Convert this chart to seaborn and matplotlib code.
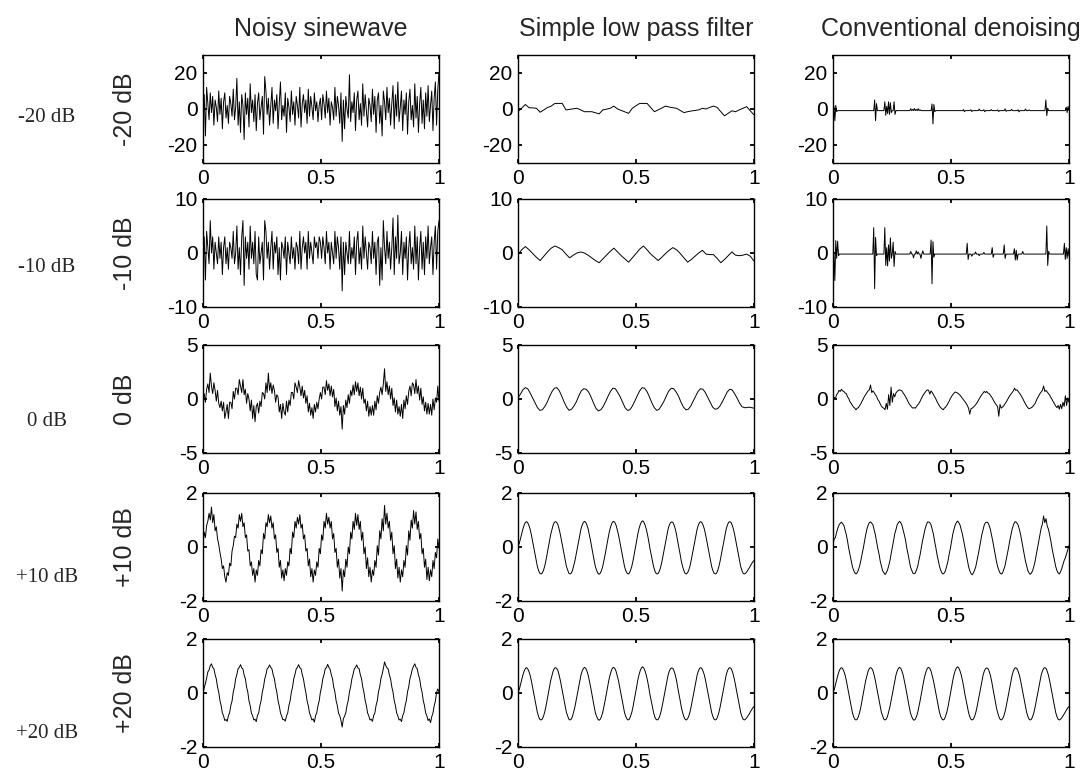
import numpy as np
import matplotlib
matplotlib.use('Agg')
import matplotlib.pyplot as plt
import seaborn as sns

# --- labels / axes settings ---
snr_labels = ['-20 dB', '-10 dB', '0 dB', '+10 dB', '+20 dB']
col_titles = ['Noisy sinewave', 'Simple low pass filter', 'Conventional denoising']
y_half_range = [30, 10, 5, 2, 2]
y_ticks = [[-20, 0, 20], [-10, 0, 10], [-5, 0, 5], [-2, 0, 2], [-2, 0, 2]]
x_ticks = [0, 0.5, 1]
x_ticklabels = ['0', '0.5', '1']

# --- noisy sinewave ---
noisy_m20 = [
    -4, 8, -15, 12, 3, -6, 9, -2, 7, -9, 5, 1, -7, 10,
    -3, 6, -11, 4, 9, -5, 2, -8, 7, 3, -4, 11, -6, 1,
    17, -9, 4, -13, 8, 2, -17, 9, -3, 6, -10, 14, -2, 5,
    -7, 8, -12, 3, 9, -6, 1, 7, -14, 18, 10, -3, 6, -9,
    2, 12, -8, 5, -1, 8, -11, 3, 15, -6, 2, -4, 9, -13,
    6, 1, -7, 10, -3, 4, -9, 7, 2, -5, 12, -10, 3, 8,
    -2, 5, -8, 11, -4, 7, 1, -6, 9, -1, 4, -7, 2, 6,
    -6, 8, 3, -5, 10, -2, 6, -9, 4, 1, -6, 12, -4, 7,
    2, -8, 9, -18, 5, -11, 7, 0, -5, 19, -7, 4, -2, 9,
    -12, 5, 10, -6, 3, -9, 14, -4, 8, -1, -10, 6, 2, -7,
    11, -3, 7, -13, 5, 9, -8, 2, -15, 10, 4, -6, 12, -2,
    6, -9, 3, 13, -11, 8, -4, 15, -7, 1, 10, -12, 5, -3,
    9, -14, 4, 11, -6, 2, -10, 14, -5, 7, -13, 3, 12, -8,
    5, -11, 9, -4, 13, -7, 2, 10, -12, 6, 15, -9, 11, 20]

noisy_m10 = [
    -1, 3, -5, 4, 1, -2, 6, 0, 3, -3, 2, 0, -2, 3,
    -1, 2, -4, 1, 3, -2, 1, -3, 2, 1, -1, 4, -2, 0,
    5, -3, 1, -4, 3, 6, -6, 3, -1, 2, -3, 5, -1, 2,
    -2, 4, -4, -5, 3, -2, 0, 2, -5, 6, 4, -1, 2, -3,
    1, 4, -3, 2, 0, 3, -4, 1, -5, 2, 1, -1, 3, -4,
    2, 0, -2, 3, -1, 1, -3, 2, 1, -2, 4, -3, 1, 3,
    0, 2, -3, 4, -1, 2, 0, -2, 3, 1, 2, -1, 3, 2,
    -1, 3, 1, -2, 4, 0, 2, -3, 2, 0, -2, 4, -1, 3,
    1, -3, 3, -7, 2, -4, 2, 0, -2, 4, -2, 1, -1, 3,
    -4, 2, 4, -2, 1, -3, 5, -1, 3, 0, -3, 2, 1, -2,
    4, -1, 2, -4, 2, 3, -6, 1, -5, 6, 1, -2, 4, -1,
    2, -3, 1, 6.5, -4, 3, -1, 7, -2, 0, 4, -4, 2, -1,
    3, -5, 1, 4, -2, 1, -3, 5, -2, 3, -5, 1, 4, -3,
    2, -4, 3, -1, 5, -2, 1, 3, -4, 2, 5, -3, 4, 6]

noisy_0 = [
    -0.1, 0.5, -0.3, 0.9, 1.4, 0.6, 2.4, 1.2, 0.5, 1.5, 0.8, -0.2, 0.8, -0.4,
    -0.8, -0.2, -1.1, -0.3, -1.8, -1.2, -0.5, -1.8, -0.3, -0.3, -0.9, 0.7, 0.0, 1.0,
    1.0, 0.4, 1.8, 1.2, 0.6, 1.8, 0.4, 0.9, -0.4, 0.5, 0.0, -1.1, -0.1, -1.8,
    -0.6, -2.1, -0.7, -0.4, -1.3, -0.2, -0.7, 0.6, 0.5, 0.0, 1.5, 0.6, 2.4, 0.8,
    1.5, 0.5, 1.3, 0.8, -0.3, 0.4, 0.2, -1.2, -0.5, -1.8, -0.4, -1.2, -1.5, -0.2,
    -1.2, -0.1, -0.6, 0.6, 0.6, 0.0, 1.5, 1.1, 0.6, 1.7, 1.1, 0.3, 1.2, 0.1,
    0.8, -0.4, 0.3, -1.2, -0.4, -1.5, -0.8, -1.8, -0.5, -1.2, -0.3, -0.9, 0.0, 0.6,
    0.0, 1.1, 1.1, 0.4, 1.7, 0.8, 1.4, 0.3, 1.2, 0.2, 0.9, -0.7, 0.1, -1.1,
    -0.2, -1.5, -0.7, -2.8, -0.6, -1.4, -0.1, -0.8, 0.4, -0.4, 0.8, 0.3, 1.3, 0.4,
    1.6, 0.7, 1.5, 0.3, 1.1, 0.0, 1.0, -0.4, 0.0, -1.1, -0.2, -1.6, -0.7, -1.5,
    -0.6, -1.5, -0.2, -1.0, 0.3, -0.4, 0.6, 1.1, 0.4, 1.4, 2.8, 0.7, 1.6, 0.4,
    1.2, 0.0, 1.0, -0.6, 0.1, -1.2, -0.1, -1.4, -0.7, -1.6, -0.5, -1.8, -0.1, -0.9,
    0.3, -0.5, 0.7, 1.2, 0.3, 1.5, 1.3, 0.5, 1.8, 0.5, 1.2, -0.1, 1.0, -0.5,
    0.2, -1.1, -0.3, -1.4, -0.4, -1.4, -0.5, -1.5, 0.0, -1.0, 0.1, -0.3, 1.2, -0.2]

noisy_p10 = [
    0.10, 0.55, 0.35, 0.80, 0.95, 1.25, 1.00, 1.48, 0.90, 1.20, 0.60, 0.75, 0.30, 0.10,
    -0.20, -0.45, -0.80, -0.70, -1.10, -1.30, -0.95, -1.05, -0.60, -0.70, -0.15, 0.05, 0.40, 0.35,
    0.85, 0.70, 1.20, 0.95, 1.25, 0.75, 0.90, 0.35, 0.45, -0.15, -0.10, -0.70, -0.55, -1.05,
    -0.80, -1.30, -0.85, -1.05, -0.50, -0.70, -0.10, -0.25, 0.50, 0.30, 0.90, 0.75, 1.20, 0.90,
    1.15, 0.70, 0.90, 0.30, 0.45, -0.20, -0.05, -0.75, -0.50, -1.15, -0.85, -1.25, -0.80, -1.05,
    -0.55, -0.70, -0.05, -0.25, 0.55, 0.35, 0.95, 0.70, 1.10, 0.85, 1.20, 0.70, 0.85, 0.30,
    0.45, -0.15, -0.05, -0.70, -0.45, -1.10, -0.80, -1.30, -0.85, -1.05, -0.55, -0.75, -0.05, -0.25,
    0.45, 0.25, 0.95, 0.70, 1.25, 0.85, 1.10, 0.70, 0.95, 0.30, 0.50, -0.20, -0.05, -0.75,
    -0.45, -1.15, -0.80, -1.63, -0.85, -1.10, -0.45, -0.75, 0.00, -0.25, 0.55, 0.30, 0.95, 0.65,
    1.25, 0.80, 1.20, 0.65, 0.95, 0.25, 0.55, -0.25, 0.00, -0.80, -0.40, -1.10, -0.75, -1.30,
    -0.85, -1.05, -0.50, -0.75, 0.05, -0.30, 0.60, 0.30, 1.05, 0.60, 1.54, 0.85, 1.25, 0.70,
    0.95, 0.25, 0.55, -0.25, 0.05, -0.80, -0.45, -1.15, -0.75, -1.30, -0.85, -1.10, -0.50, -0.75,
    0.05, -0.30, 0.60, 0.25, 1.00, 0.70, 1.35, 0.85, 1.30, 0.65, 0.95, 0.30, 0.50, -0.25,
    -0.05, -0.75, -0.45, -1.20, -0.75, -1.25, -0.85, -1.10, -0.50, -0.80, -0.20, -0.40, 0.30, -0.05]

noisy_p20 = [
    -0.05, 0.20, 0.35, 0.55, 0.78, 0.85, 1.02, 1.08, 0.95, 0.90, 0.68, 0.52, 0.22, 0.03,
    -0.28, -0.47, -0.74, -0.85, -1.02, -0.98, -1.05, -0.84, -0.73, -0.46, -0.30, 0.04, 0.22, 0.53,
    0.69, 0.90, 0.95, 1.05, 0.93, 0.89, 0.66, 0.53, 0.22, 0.04, -0.29, -0.47, -0.75, -0.84,
    -1.00, -0.97, -1.06, -0.83, -0.74, -0.47, -0.29, 0.03, 0.23, 0.52, 0.68, 0.90, 0.94, 1.04,
    0.95, 0.89, 0.67, 0.53, 0.23, 0.03, -0.28, -0.48, -0.73, -0.86, -0.99, -0.98, -1.04, -0.85,
    -0.74, -0.46, -0.29, 0.03, 0.22, 0.53, 0.69, 0.89, 0.95, 1.05, 0.94, 0.90, 0.68, 0.52,
    0.24, 0.02, -0.29, -0.47, -0.74, -0.85, -1.00, -0.96, -1.08, -0.84, -0.73, -0.47, -0.29, 0.03,
    0.23, 0.53, 0.68, 0.90, 0.94, 1.06, 0.95, 0.88, 0.68, 0.53, 0.22, 0.03, -0.29, -0.47,
    -0.75, -0.84, -1.02, -1.26, -0.95, -0.86, -0.73, -0.46, -0.28, 0.04, 0.23, 0.52, 0.69, 0.89,
    0.95, 1.04, 0.93, 0.90, 0.67, 0.53, 0.23, 0.02, -0.28, -0.47, -0.74, -0.85, -1.00, -0.97,
    -1.05, -0.84, -0.74, -0.46, -0.29, 0.04, 0.23, 0.53, 0.69, 0.90, 1.15, 1.02, 0.93, 0.89,
    0.67, 0.52, 0.23, 0.03, -0.28, -0.47, -0.74, -0.85, -1.00, -0.97, -1.06, -0.84, -0.73, -0.47,
    -0.29, 0.04, 0.23, 0.53, 0.69, 0.89, 1.00, 1.08, 0.95, 0.90, 0.67, 0.53, 0.23, 0.03,
    -0.28, -0.47, -0.74, -0.85, -1.02, -0.96, -1.10, -0.88, -0.74, -0.48, -0.30, 0.02, 0.15, 0.05]

# --- simple low pass filter ---
lpf_m20 = [
    -1.5, 0.5, 2.5, 0.7, 0.6, 0.4, -1.8, -0.5, 0.8, 1.6, 3.1, 3.1, 3.1, -0.5, -0.2, 0.1,
    0.4, -0.5, -1.5, -1.5, -1.5, -2.1, -2.7, -0.5, -0.1, 0.4, 1.6, 0.0, -0.8, -1.6, -2.4, 0.4,
    1.8, 3.1, 3.1, 3.1, 0.8, -1.5, -0.5, 0.5, 1.6, 1.1, 0.7, 0.4, -0.8, -2.0, -1.5, -1.1,
    -0.8, -0.5, 0.4, 0.0, 0.9, 1.6, 0.9, -1.5, -3.8, -2.4, -1.0, -1.5, -0.5, 0.4, 1.3, -1.0,
    -3.3]

lpf_m10 = [
    -0.3, 0.6, 1.2, 0.6, -0.1, -0.8, -1.4, -0.6, 0.2, 0.9, 1.3, 1.0, 0.6, -0.2, -0.9, -0.4,
    0.0, 0.2, 0.0, -0.4, -0.9, -1.4, -1.8, -1.1, -0.4, 0.3, 0.9, 0.2, -0.5, -1.1, -1.7, -0.9,
    -0.1, 0.7, 1.3, 0.6, -0.2, -0.8, -1.4, -0.8, -0.1, 0.5, 1.0, 0.6, -0.1, -0.9, -1.7, -1.2,
    -0.6, 0.0, 0.5, -0.2, -0.3, -0.3, -1.0, -1.8, -1.2, -0.5, 0.2, -0.4, -0.5, -0.4, -0.2, -0.6,
    -1.5]

lpf_0 = [
    0.10, 0.45, 0.85, 1.05, 0.95, 0.55, 0.10, -0.35, -0.80, -1.05, -1.00, -0.70,
    -0.30, 0.25, 0.70, 1.00, 1.05, 0.75, 0.25, -0.30, -0.75, -1.05, -0.95, -0.65,
    -0.25, 0.30, 0.75, 0.95, 0.90, 0.65, 0.20, -0.35, -0.85, -1.10, -1.00, -0.70,
    -0.25, 0.25, 0.70, 1.00, 0.95, 0.60, 0.20, -0.30, -0.80, -1.05, -1.00, -0.65,
    -0.20, 0.30, 0.75, 1.05, 1.00, 0.70, 0.20, -0.35, -0.80, -1.05, -0.95, -0.60,
    -0.20, 0.30, 0.75, 1.00, 0.95, 0.65, 0.25, -0.30, -0.75, -1.00, -0.95, -0.65,
    -0.20, 0.25, 0.70, 0.95, 0.90, 0.60, 0.15, -0.30, -0.75, -0.95, -0.90, -0.65,
    -0.25, 0.20, 0.65, 0.90, 0.85, 0.50, 0.10, -0.35, -0.70, -0.80, -0.80, -0.75,
    -0.80, -0.85]

smooth_sine = [
    0.05, 0.12, 0.30, 0.48, 0.66, 0.80, 0.90, 0.94, 0.90, 0.80, 0.66, 0.46, 0.22, -0.03, -0.28, -0.52, -0.72, -0.87, -0.97, -1.00, -0.97, -0.87, -0.72, -0.52,
    -0.28, -0.03, 0.22, 0.46, 0.64, 0.81, 0.91, 0.94, 0.91, 0.83, 0.66, 0.46, 0.22, -0.03, -0.26, -0.52, -0.72, -0.85, -0.97, -1.00, -0.97, -0.87, -0.70, -0.52,
    -0.28, -0.05, 0.22, 0.46, 0.66, 0.81, 0.91, 0.95, 0.91, 0.81, 0.66, 0.44, 0.22, -0.03, -0.28, -0.52, -0.74, -0.87, -0.97, -1.01, -0.97, -0.87, -0.72, -0.50,
    -0.28, -0.03, 0.24, 0.46, 0.66, 0.81, 0.92, 0.95, 0.91, 0.81, 0.64, 0.46, 0.22, -0.03, -0.28, -0.52, -0.72, -0.87, -0.96, -1.00, -0.97, -0.86, -0.72, -0.52,
    -0.28, -0.03, 0.22, 0.48, 0.68, 0.83, 0.93, 0.97, 0.92, 0.81, 0.66, 0.46, 0.22, -0.05, -0.28, -0.52, -0.72, -0.88, -0.97, -1.00, -0.97, -0.87, -0.72, -0.52,
    -0.28, -0.03, 0.22, 0.46, 0.66, 0.81, 0.90, 0.93, 0.91, 0.81, 0.66, 0.46, 0.20, -0.03, -0.28, -0.54, -0.72, -0.87, -0.97, -1.00, -0.96, -0.87, -0.72, -0.52,
    -0.28, -0.03, 0.22, 0.46, 0.66, 0.81, 0.91, 0.94, 0.90, 0.80, 0.66, 0.46, 0.22, -0.03, -0.28, -0.52, -0.72, -0.87, -0.97, -1.00, -0.97, -0.87, -0.72, -0.52,
    -0.28, -0.03, 0.22, 0.46, 0.66, 0.81, 0.91, 0.94, 0.91, 0.81, 0.66, 0.46, 0.22, -0.03, -0.28, -0.52, -0.72, -0.87, -0.97, -1.00, -0.97, -0.92, -0.85, -0.78,
    -0.70, -0.62, -0.55, -0.50]

# --- conventional denoising ---
# mostly flat baseline with isolated spikes: {sample index: value}, 256 samples
den_len = 256
den_m20_base = -0.9
den_m20_spikes = {
    1: 1.5, 2: -6.5, 3: 2.0, 4: -1.5,
    45: 5.0, 46: -6.5, 47: 3.0,
    56: 4.0, 57: -3.5, 58: 1.5, 59: -2.5, 60: 4.0, 61: -3.0, 62: 3.5, 63: -2.0, 66: 4.0, 67: -3.0,
    84: 0.2, 86: -0.2, 88: 0.3, 90: -0.3, 92: 0.2, 94: -0.4,
    107: 2.8, 108: -8.3, 109: 2.5, 110: -1.5,
    141: -0.3, 142: -1.5, 149: -0.4, 150: -1.4, 158: 0.0, 163: -0.4, 164: -1.5, 171: -0.3,
    178: -0.5, 179: -1.4, 186: 0.1, 187: -1.3, 193: -0.2, 200: -0.4, 201: -1.6, 208: 0.0, 212: -0.5,
    230: 5.0, 231: -3.7, 232: 0.5,
    252: 1.0, 253: -2.0, 254: 1.5}

den_m10_base = -0.2
den_m10_spikes = {
    2: -5.1, 3: 2.3, 4: -1.0, 5: 2.2, 6: -0.5,
    44: 4.7, 45: -6.6, 46: 2.9, 47: -0.5,
    56: 4.7, 57: -2.3, 58: 1.0, 59: -2.4, 60: 1.5, 61: -1.5, 62: 2.8, 63: -1.0, 65: 2.0, 66: -2.5, 67: 0.3,
    84: 0.3, 87: -0.9, 90: 0.4, 92: 0.2, 95: -1.0, 97: 0.4,
    106: 2.4, 107: -5.7, 108: 2.1, 109: -0.8,
    145: 1.8, 146: -1.2, 150: -0.6, 154: 0.2, 158: -0.5, 163: 0.1,
    172: 1.0, 173: -0.8, 185: 1.5, 186: -1.0,
    196: 0.8, 197: -1.3, 198: 0.5, 199: -1.3, 205: 0.3,
    231: 5.0, 232: -2.3, 233: 0.3,
    250: 1.8, 251: -1.2, 252: 1.0, 253: -1.0, 254: 0.8, 255: -0.6}

den_0 = [
    -0.10, 0.15, 0.05, 0.40, 0.55, 0.80, 0.70, 0.90, 0.75, 0.70, 0.55, 0.50, 0.20, 0.05, -0.25, -0.40, -0.60, -0.75, -0.85, -1.00, -0.85, -0.80, -0.60, -0.45,
    -0.20, 0.00, 0.25, 0.40, 0.60, 0.75, 0.85, 1.30, 0.60, 0.75, 0.60, 0.40, 0.25, -0.05, -0.20, -0.45, -0.65, -0.80, -0.85, -1.00, -0.40, -0.95, 0.40, -0.60,
    1.10, -0.30, 0.50, 0.20, 0.55, 0.70, 0.80, 0.85, 0.80, 0.75, 0.55, 0.40, 0.20, 0.00, -0.25, -0.45, -0.60, -0.75, -0.85, -0.80, -0.85, -0.70, -0.55, -0.40,
    -0.20, 0.05, 0.25, 0.45, 0.60, 0.75, 0.85, 0.80, 0.45, 0.75, 0.60, 0.40, 0.20, 0.00, -0.25, -0.45, -0.65, -0.80, -0.90, -1.00, -0.85, -0.75, -0.60, -0.40,
    -0.20, 0.05, 0.25, 0.40, 0.55, 0.65, 0.60, 0.55, 0.45, 0.35, 0.20, 0.05, -0.10, -0.25, -0.40, -0.60, -0.85, -1.40, -0.90, -0.85, -0.75, -0.65, -0.50, -0.35,
    -0.15, 0.05, 0.25, 0.40, 0.55, 0.70, 0.60, 0.70, 0.55, 0.50, 0.35, 0.20, 0.00, -0.20, -0.40, -0.55, -0.70, -1.60, -0.50, -0.85, -0.75, -0.65, -0.45, -0.30,
    -0.10, 0.10, 0.30, 0.45, 0.60, 0.75, 1.00, 0.80, 0.85, 0.70, 0.55, 0.40, 0.20, 0.00, -0.25, -0.45, -0.65, -0.80, -0.90, -0.85, -0.80, -0.70, -0.55, -0.40,
    -0.15, 0.10, 0.30, 0.50, 0.65, 0.80, 1.20, 0.70, 0.80, 0.65, 0.50, 0.35, 0.15, -0.05, -0.25, -0.45, -0.65, -0.80, -0.60, -0.95, -0.50, -0.90, -0.30, -0.70,
    0.30, -0.60, 0.10, -0.30]

den_p10 = [
    0.10, 0.30, 0.35, 0.55, 0.70, 0.82, 0.88, 0.92, 0.86, 0.80, 0.62, 0.46, 0.22, -0.05, -0.28, -0.50, -0.72, -0.86, -0.95, -1.00, -0.95, -0.85, -0.70, -0.50,
    -0.28, -0.05, 0.20, 0.45, 0.66, 0.80, 0.90, 0.93, 0.88, 0.82, 0.64, 0.45, 0.20, -0.05, -0.25, -0.52, -0.70, -0.88, -0.95, -1.02, -0.95, -0.86, -0.70, -0.52,
    -0.26, -0.03, 0.22, 0.48, 0.64, 0.82, 0.90, 0.95, 0.90, 0.80, 0.62, 0.44, 0.24, -0.05, -0.26, -0.50, -0.74, -0.85, -0.97, -0.99, -0.97, -0.85, -0.72, -0.48,
    -0.28, -0.02, 0.24, 0.44, 0.66, 0.80, 0.92, 0.93, 0.90, 0.82, 0.64, 0.47, 0.20, -0.03, -0.30, -0.50, -0.72, -0.86, -0.96, -1.00, -0.96, -0.87, -0.70, -0.52,
    -0.26, -0.05, 0.22, 0.48, 0.66, 0.82, 0.91, 0.96, 0.90, 0.81, 0.64, 0.46, 0.22, -0.04, -0.28, -0.52, -0.72, -0.88, -0.98, -1.03, -0.96, -0.86, -0.72, -0.50,
    -0.28, -0.03, 0.20, 0.46, 0.64, 0.82, 0.90, 0.92, 0.90, 0.80, 0.66, 0.44, 0.22, -0.03, -0.28, -0.52, -0.72, -0.86, -0.96, -1.00, -0.97, -0.85, -0.72, -0.50,
    -0.28, -0.04, 0.22, 0.45, 0.66, 0.80, 0.92, 0.94, 0.88, 0.81, 0.65, 0.46, 0.22, -0.03, -0.26, -0.52, -0.70, -0.87, -0.96, -1.01, -0.96, -0.87, -0.71, -0.52,
    -0.28, -0.03, 0.22, 0.46, 0.70, 0.85, 1.15, 0.90, 1.05, 0.78, 0.66, 0.45, 0.22, -0.05, -0.28, -0.52, -0.72, -0.87, -0.96, -1.00, -0.92, -0.80, -0.65, -0.50,
    -0.40, -0.25, -0.10, 0.05]


def spiky(base, spikes, n):
    vals = np.full(n, base, dtype=float)
    for idx, v in spikes.items():
        vals[idx] = v
    return vals


den_m20 = spiky(den_m20_base, den_m20_spikes, den_len)
den_m10 = spiky(den_m10_base, den_m10_spikes, den_len)

grid = [
    [noisy_m20, lpf_m20, den_m20],
    [noisy_m10, lpf_m10, den_m10],
    [noisy_0, lpf_0, den_0],
    [noisy_p10, smooth_sine, den_p10],
    [noisy_p20, smooth_sine, smooth_sine],
]

sns.set_style('ticks')
plt.rcParams['font.family'] = ['Liberation Sans', 'DejaVu Sans']
plt.rcParams['axes.edgecolor'] = 'black'
plt.rcParams['xtick.color'] = 'black'
plt.rcParams['ytick.color'] = 'black'

W, H = 1085, 781
fig = plt.figure(figsize=(W / 100, H / 100), dpi=100)

col_left = [203, 518, 833]
row_top = [55, 199, 345, 493, 639]
ax_w, ax_h = 236, 108
row_label_y = [117, 267, 422, 578, 733]

for r in range(5):
    for c in range(3):
        ax = fig.add_axes([col_left[c] / W, 1 - (row_top[r] + ax_h) / H, ax_w / W, ax_h / H])
        y = np.asarray(grid[r][c], dtype=float)
        x = np.linspace(0, 1, len(y))
        sns.lineplot(x=x, y=y, ax=ax, color='black', linewidth=0.7, estimator=None)
        ax.set_xlim(0, 1)
        ax.set_ylim(-y_half_range[r], y_half_range[r])
        ax.set_xticks(x_ticks)
        ax.set_xticklabels(x_ticklabels)
        ax.set_yticks(y_ticks[r])
        ax.set_yticklabels([str(t) for t in y_ticks[r]])
        ax.tick_params(direction='in', length=3, width=1.3, top=True, right=True,
                       labelsize=15, pad=4)
        for sp in ax.spines.values():
            sp.set_linewidth(1.0)
            sp.set_color('black')
        ax.set_xlabel('')
        ax.set_ylabel('')
        if r == 0:
            ax.set_title(col_titles[c], fontsize=18, pad=14)
        if c == 0:
            ax.set_ylabel(snr_labels[r], fontsize=18)
            ax.yaxis.set_label_coords(-0.28, 0.5)

for r in range(5):
    fig.text(47 / W, 1 - row_label_y[r] / H, snr_labels[r], ha='center', va='center',
             fontsize=15, family=['Liberation Serif', 'DejaVu Serif'])

fig.savefig('out.png', dpi=100, facecolor='white')
